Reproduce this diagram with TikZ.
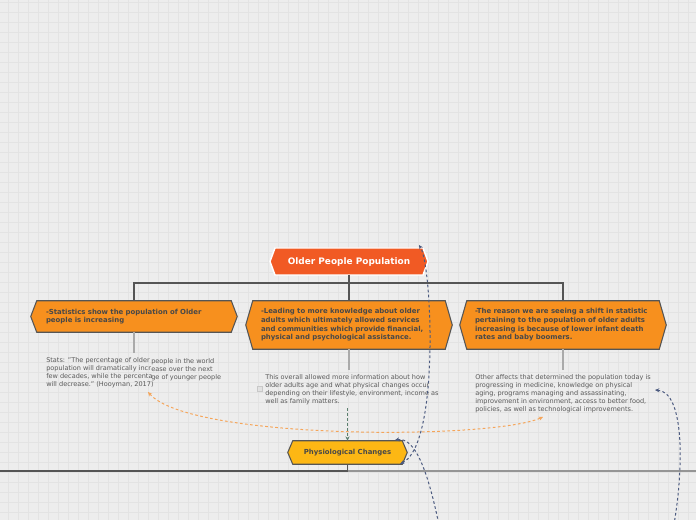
\documentclass[tikz,border=0pt]{standalone}
\usepackage{fontspec}
\setmainfont{DejaVu Sans}
\usetikzlibrary{calc,arrows.meta}
\pgfdeclarelayer{gridlayer}
\pgfdeclarelayer{background}
\pgfsetlayers{gridlayer,background,main}
\definecolor{bgc}{HTML}{EDEDED}
\definecolor{gridc}{HTML}{E3E3E3}
\definecolor{topfill}{HTML}{F15A24}
\definecolor{orfill}{HTML}{F7901E}
\definecolor{yefill}{HTML}{FDB714}
\definecolor{nodetext}{HTML}{484848}
\definecolor{bodytextc}{HTML}{5A5A5A}
\definecolor{treec}{HTML}{555555}
\definecolor{subc}{HTML}{AAAAAA}
\definecolor{lightc}{HTML}{959595}
\definecolor{bluec}{HTML}{4C5B80}
\definecolor{orangec}{HTML}{F5A55A}
\definecolor{greenc}{HTML}{5B7F6E}
\definecolor{boxc}{HTML}{C8C8C8}
\newcommand\hexdraw[3]{\path[#3] (#1.north west) -- (#1.north east) -- ($(#1.east)+(#2,0)$) -- (#1.south east) -- (#1.south west) -- ($(#1.west)+(-#2,0)$) -- cycle;}
\tikzset{
  gridline/.style={draw=gridc, line width=0.5pt},
  hexbox/.style={rectangle, inner ysep=0pt, font=\fontsize{5.2pt}{6.4pt}\selectfont\bfseries, text=nodetext, align=left},
  hexorange/.style={fill=orfill, draw=treec, line width=0.8pt, line join=miter},
  hextop/.style={fill=topfill, draw=white, line width=1.1pt},
  hexyellow/.style={fill=yefill, draw=treec, line width=0.8pt},
  bodytext/.style={inner sep=0pt, align=left, text=bodytextc, font=\fontsize{4.9pt}{6pt}\selectfont},
  treeline/.style={draw=treec, line width=1pt},
  subline/.style={draw=subc, line width=1.1pt},
  darkline/.style={draw=treec, line width=1.5pt},
  lightline/.style={draw=lightc, line width=1.5pt},
  dashblue/.style={draw=bluec, line width=0.75pt, dash pattern=on 2pt off 1.8pt, {Stealth[length=3.2pt,width=3pt]}-{Stealth[length=3.2pt,width=3pt]}},
  dashblueone/.style={draw=bluec, line width=0.75pt, dash pattern=on 2pt off 1.8pt, {Stealth[length=3.2pt,width=3pt]}-},
  dashorange/.style={draw=orangec, line width=0.75pt, dash pattern=on 2pt off 1.8pt, {Stealth[length=3.2pt,width=3pt]}-{Stealth[length=3.2pt,width=3pt]}},
  dashgreen/.style={draw=greenc, line width=0.75pt, dash pattern=on 2pt off 1.8pt, -{Stealth[length=3.2pt,width=3pt]}},
  checkbox/.style={draw=boxc, fill=bgc!90!gray, line width=0.5pt, minimum size=3.75pt, inner sep=0pt}
}
\begin{document}
\begin{tikzpicture}[x=0.75pt,y=-0.75pt]
\useasboundingbox (0,0) rectangle (696,520);
\clip (0,0) rectangle (696,520);
\begin{pgfonlayer}{gridlayer}
\fill[bgc] (0,0) rectangle (696,520);
\foreach \gx in {8,18,...,688} \draw[gridline] (\gx,0) -- (\gx,520);
\foreach \gy in {2.7,12.7,...,520} \draw[gridline] (0,\gy) -- (696,\gy);
\end{pgfonlayer}

% main nodes
\node[hexbox, align=center, minimum width=111pt, minimum height=20.25pt, inner xsep=0pt, text=white, font=\fontsize{6.7pt}{8pt}\selectfont\bfseries] (top) at (349,262.5) {Older People Population};
\node[hexbox, minimum width=145.5pt, minimum height=23.25pt, inner xsep=6.75pt, text width=132pt] (left) at (134,316.5) {-Statistics show the population of Older\\people is increasing};
\node[hexbox, minimum width=144pt, minimum height=36pt, inner xsep=6pt, text width=132pt, font=\fontsize{5.2pt}{6.5pt}\selectfont\bfseries] (mid) at (349,325) {-Leading to more knowledge about older\\adults which ultimately allowed services\\and communities which provide financial,\\physical and psychological assistance.};
\node[hexbox, minimum width=144pt, minimum height=36pt, inner xsep=6pt, text width=132pt, font=\fontsize{5.2pt}{6.5pt}\selectfont\bfseries] (right) at (563,325) {-The reason we are seeing a shift in statistic\\pertaining to the population of older adults\\increasing is because of lower infant death\\rates and baby boomers.};
\node[hexbox, align=center, minimum width=81.75pt, minimum height=17.25pt, inner xsep=0pt] (phys) at (347.5,452.5) {Physiological Changes};

\begin{pgfonlayer}{background}
\path[hextop] (275,248) -- (423,248) -- (428,261.5) -- (423,275) -- (275,275) -- (270,261.5) -- cycle;
\hexdraw{left}{6}{hexorange}
\hexdraw{mid}{7}{hexorange}
\hexdraw{right}{7}{hexorange}
\hexdraw{phys}{5}{hexyellow}
\end{pgfonlayer}

% body texts
\node[bodytext, anchor=north west] (lt) at (46,357) {Stats: "The percentage of older\\population will dramatically incr\\few decades, while the percenta\\will decrease." (Hooyman, 2017)};
\node[bodytext, anchor=north west] (lt2) at (151,358) {people in the world\\ease over the next\\ge of younger people};
\node[bodytext, anchor=north west] (mt) at (265,374.5) {This overall allowed more information about how\\older adults age and what physical changes occur\\depending on their lifestyle, environment, income as\\well as family matters.};
\node[bodytext, anchor=north west] (rt) at (475,374.5) {Other affects that determined the population today is\\progressing in medicine, knowledge on physical\\aging, programs managing and assassinating,\\improvement in environment, access to better food,\\policies, as well as technological improvements.};
\node[checkbox] (cb) at (260,389) {};

% tree connectors
\coordinate (tj) at (349,283);
\draw[treeline] (349,275) -- (tj);
\draw[treeline] (tj) -| (left.north);
\draw[treeline] (tj) -| (right.north);
\draw[treeline] (tj) -- (mid.north);

\draw[subline] (left.south) -- (left.south |- 0,353);
\draw[subline] (mid.south) -- (mid.south |- 0,370);
\draw[subline] (right.south) -- (right.south |- 0,370);

% bottom line
\coordinate (bl) at (0,471);
\coordinate (br) at (696,471);
\coordinate (bj) at (phys.south |- bl);
\draw[lightline] (bj) -- (br);
\draw[darkline] (bl) -- (bj);
\draw[treeline] (phys.south) -- (bj);

% dashed relations
\coordinate (gs) at (phys.north |- 0,408);
\draw[dashgreen] (gs) -- (phys.north);

\coordinate (oa) at (148,392);
\coordinate (ob) at (543,417);
\draw[dashorange] (oa) .. controls (190,440) and (490,440) .. (ob);

\coordinate (b1s) at (400,464);
\coordinate (b1e) at (419,245);
\draw[dashblue] (b1s) .. controls (440,445) and (432,265) .. (b1e);

\coordinate (b2s) at (395,440);
\coordinate (b2e) at (440,530);
\draw[dashblueone] (b2s) .. controls (415,437) and (428,470) .. (b2e);

\coordinate (b3s) at (655,390);
\coordinate (b3e) at (673,530);
\draw[dashblueone] (b3s) .. controls (685,392) and (684,470) .. (b3e);
\end{tikzpicture}
\end{document}
